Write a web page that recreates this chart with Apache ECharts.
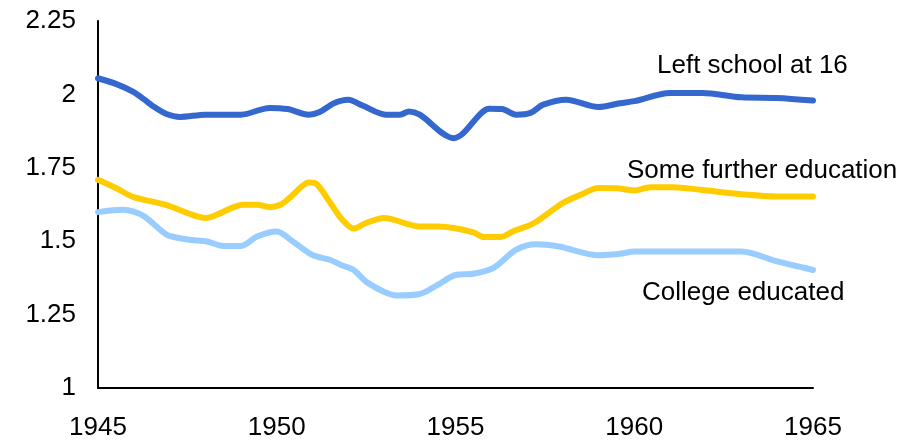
<!DOCTYPE html>
<html>
<head>
	<meta charset="UTF-8">
	<title>Education lines</title>
	<script src="https://cdn.jsdelivr.net/npm/echarts@6/dist/echarts.min.js"></script>
	<style>
		html, body { margin: 0; padding: 0; background: #fff; }
	</style>
</head>
<body>
	<div id="main" style="width:919px;height:441px"></div>
	<script>
		// data
		var seriesNames = ['Left school at 16', 'Some further education', 'College educated'];

		var schoolYears = [1945, 1945.5, 1946, 1946.3, 1946.55, 1946.9, 1947.3, 1948, 1949, 1949.8, 1950.3, 1950.9, 1951.2, 1951.6, 1952, 1952.4, 1953.05, 1953.45, 1953.7, 1954, 1954.95, 1955.2, 1955.95, 1956.3, 1956.7, 1957.1, 1957.45, 1958.1, 1959, 1959.6, 1960, 1961, 1961.9, 1963, 1964, 1965];
		var schoolValues = [2.055, 2.036, 2.008, 1.982, 1.959, 1.934, 1.923, 1.931, 1.931, 1.954, 1.950, 1.931, 1.940, 1.970, 1.982, 1.962, 1.931, 1.931, 1.942, 1.931, 1.851, 1.866, 1.951, 1.950, 1.931, 1.937, 1.965, 1.982, 1.957, 1.970, 1.977, 2.005, 2.005, 1.990, 1.988, 1.979];

		var furtherYears = [1945, 1945.5, 1946, 1946.9, 1947.5, 1948, 1948.2, 1948.8, 1949.05, 1949.45, 1949.8, 1950.1, 1950.4, 1950.9, 1951.1, 1951.5, 1951.8, 1952.15, 1952.5, 1953, 1954, 1954.5, 1954.95, 1955.5, 1955.8, 1956.25, 1956.6, 1957.2, 1958, 1958.5, 1959, 1959.5, 1960, 1960.45, 1961.1, 1961.85, 1963, 1964, 1965];
		var furtherValues = [1.709, 1.681, 1.650, 1.624, 1.596, 1.579, 1.584, 1.616, 1.624, 1.624, 1.616, 1.624, 1.652, 1.700, 1.696, 1.630, 1.578, 1.543, 1.562, 1.579, 1.550, 1.550, 1.545, 1.530, 1.514, 1.514, 1.533, 1.562, 1.630, 1.658, 1.681, 1.680, 1.673, 1.684, 1.684, 1.675, 1.660, 1.652, 1.652];

		var collegeYears = [1945, 1945.7, 1946, 1946.3, 1946.8, 1947, 1947.55, 1948.05, 1948.5, 1949, 1949.45, 1950, 1950.45, 1951, 1951.5, 1951.8, 1952.15, 1952.5, 1953, 1953.35, 1954, 1954.5, 1955, 1955.5, 1956.05, 1956.7, 1957.25, 1957.9, 1959, 1959.6, 1960, 1963, 1964, 1965];
		var collegeValues = [1.599, 1.607, 1.601, 1.584, 1.533, 1.518, 1.505, 1.499, 1.484, 1.484, 1.516, 1.533, 1.499, 1.453, 1.436, 1.419, 1.402, 1.362, 1.328, 1.315, 1.320, 1.351, 1.385, 1.389, 1.408, 1.471, 1.490, 1.482, 1.452, 1.457, 1.465, 1.465, 1.431, 1.402];

		var xTicks = [1945, 1950, 1955, 1960, 1965];
		var yTicks = [1, 1.25, 1.5, 1.75, 2, 2.25];

		function pairs(xs, ys) {
			var out = [];
			for (var i = 0; i < xs.length; i++) out.push([xs[i], ys[i]]);
			return out;
		}

		var font = 'Liberation Sans, Arial, sans-serif';
		var myChart = echarts.init(document.getElementById('main'));

		function lineSeries(name, data, color) {
			return {
				name: name,
				type: 'line',
				data: data,
				smooth: 0.3,
				showSymbol: false,
				silent: true,
				animation: false,
				lineStyle: { color: color, width: 6, cap: 'round', join: 'round' }
			};
		}

		myChart.setOption({
			animation: false,
			grid: { left: 98, right: 106, top: 21, bottom: 53 },
			xAxis: {
				type: 'value',
				min: xTicks[0],
				max: xTicks[xTicks.length - 1],
				interval: 5,
				splitLine: { show: false },
				axisTick: { show: false },
				axisLine: { show: true, lineStyle: { color: '#000', width: 2 } },
				axisLabel: {
					color: '#000', fontSize: 26, fontFamily: font, margin: 27,
					formatter: function(v) { return String(v); }
				}
			},
			yAxis: {
				type: 'value',
				min: yTicks[0],
				max: yTicks[yTicks.length - 1],
				interval: 0.25,
				splitLine: { show: false },
				axisTick: { show: false },
				axisLine: { show: true, lineStyle: { color: '#000', width: 2 } },
				axisLabel: { color: '#000', fontSize: 26, fontFamily: font, margin: 22 }
			},
			series: [
				lineSeries(seriesNames[0], pairs(schoolYears, schoolValues), '#3468CF'),
				lineSeries(seriesNames[1], pairs(furtherYears, furtherValues), '#FFCC00'),
				lineSeries(seriesNames[2], pairs(collegeYears, collegeValues), '#99CCFF')
			],
			graphic: [
				{ type: 'text', left: 657, top: 53, style: { text: seriesNames[0], fill: '#000', font: '26px ' + font } },
				{ type: 'text', left: 627, top: 158, style: { text: seriesNames[1], fill: '#000', font: '26px ' + font } },
				{ type: 'text', left: 642, top: 280, style: { text: seriesNames[2], fill: '#000', font: '26px ' + font } }
			]
		});
	</script>
</body>
</html>
